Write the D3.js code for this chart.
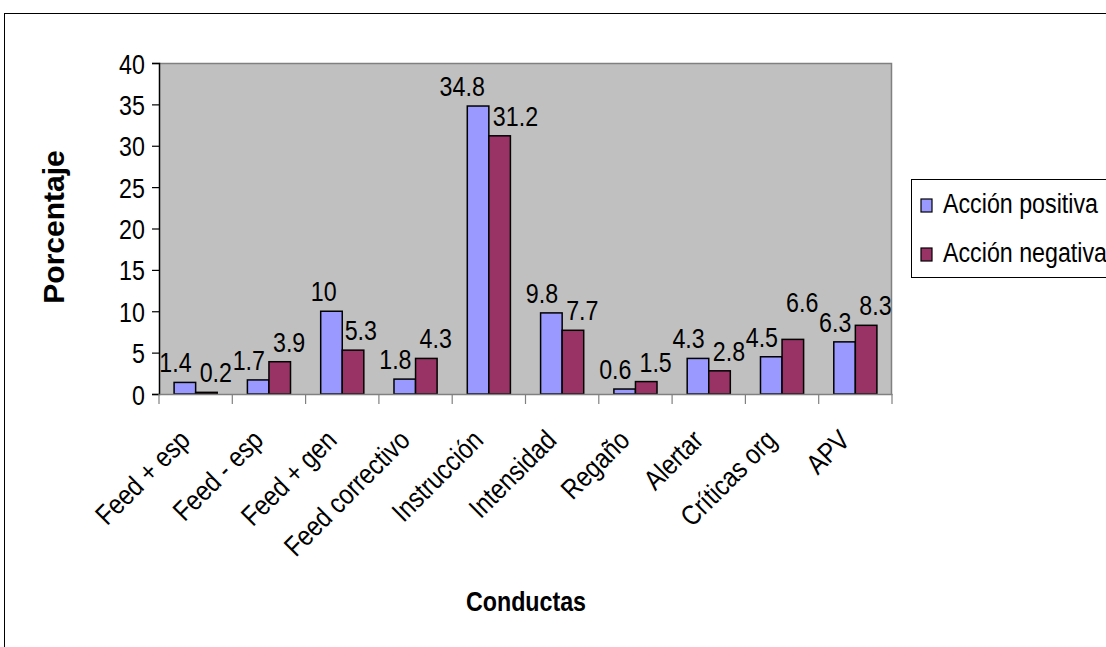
<!DOCTYPE html>
<html>
<head>
<meta charset="utf-8">
<script src="https://cdn.jsdelivr.net/npm/d3@7"></script>
<style>
  html, body { margin: 0; padding: 0; background: #fff; }
  svg { display: block; font-family: "Liberation Sans", Arial, sans-serif; }
</style>
</head>
<body>
<svg id="chart" width="1106" height="647"></svg>
<script>
const categories = ["Feed + esp", "Feed - esp", "Feed + gen", "Feed correctivo", "Instrucción",
                    "Intensidad", "Regaño", "Alertar", "Críticas org", "APV"];
const positiva = [1.4, 1.7, 10, 1.8, 34.8, 9.8, 0.6, 4.3, 4.5, 6.3];
const negativa = [0.2, 3.9, 5.3, 4.3, 31.2, 7.7, 1.5, 2.8, 6.6, 8.3];
const seriesNames = ["Acción positiva", "Acción negativa"];
const seriesColors = ["#9999FF", "#993366"];
const yTicks = [0, 5, 10, 15, 20, 25, 30, 35, 40];
const yTitle = "Porcentaje";
const xTitle = "Conductas";

const svg = d3.select("#chart");
const SX = 0.83;       // horizontal text compression
const FS = 28;

// outer frame
svg.append("rect").attr("x", 4.5).attr("y", 13.5).attr("width", 1200).attr("height", 700)
  .attr("fill", "#fff").attr("stroke", "#000").attr("stroke-width", 1);

const plot = { left: 159, right: 892, top: 63, bottom: 394 };

const x = d3.scaleBand().domain(categories).range([plot.left, plot.right]).padding(0);
const xs = d3.scaleBand().domain(seriesNames).range([0, x.bandwidth()]).paddingInner(0).paddingOuter(0.7);
const y = d3.scaleLinear().domain([0, 40]).range([plot.bottom, plot.top]);

// plot background
svg.append("rect").attr("x", plot.left).attr("y", plot.top)
  .attr("width", plot.right - plot.left).attr("height", plot.bottom - plot.top)
  .attr("fill", "#C0C0C0");
// top & right border
svg.append("path")
  .attr("d", `M${plot.left},${plot.top + 0.5}H${plot.right - 0.5}V${plot.bottom}`)
  .attr("fill", "none").attr("stroke", "#808080").attr("stroke-width", 1.5);

// bars
const data = categories.map((c, i) => ({ c, vals: [positiva[i], negativa[i]] }));
const groups = svg.append("g").selectAll("g").data(data).join("g")
  .attr("transform", d => `translate(${x(d.c)},0)`);
groups.selectAll("rect").data(d => d.vals.map((v, k) => ({ v, k }))).join("rect")
  .attr("x", d => xs(seriesNames[d.k]))
  .attr("y", d => y(d.v))
  .attr("width", xs.bandwidth())
  .attr("height", d => y(0) - y(d.v))
  .attr("fill", d => seriesColors[d.k])
  .attr("stroke", "#000").attr("stroke-width", 1.5);

// y axis
const yAxis = svg.append("g").attr("transform", `translate(${plot.left},0)`)
  .call(d3.axisLeft(y).tickValues(yTicks).tickSize(7).tickPadding(10).tickFormat(d3.format("d")));
yAxis.select(".domain").attr("stroke", "#000").attr("stroke-width", 1.5);
yAxis.selectAll(".tick line").attr("stroke", "#000").attr("stroke-width", 1.2);
yAxis.selectAll(".tick text").attr("font-size", FS).attr("fill", "#000")
  .attr("font-family", "Liberation Sans, Arial, sans-serif")
  .attr("transform", `scale(${SX},1)`).attr("dy", "0.36em");

// x axis
const xAxis = svg.append("g").attr("transform", `translate(0,${plot.bottom})`)
  .call(d3.axisBottom(x).tickSize(0).tickFormat(""));
xAxis.select(".domain").attr("stroke", "#808080").attr("stroke-width", 1.5);
const bounds = categories.map(c => x(c)).concat([x.range()[1]]);
xAxis.selectAll("line.bound").data(bounds).join("line").attr("class", "bound")
  .attr("x1", d => d).attr("x2", d => d).attr("y1", 0).attr("y2", 10)
  .attr("stroke", "#808080").attr("stroke-width", 1.2);

// category labels
svg.append("g").selectAll("text").data(categories).join("text")
  .attr("transform", d => `translate(${x(d) + x.bandwidth() / 2 - 4},442) rotate(-45) scale(0.85,1)`)
  .attr("text-anchor", "end")
  .attr("font-size", FS).attr("fill", "#000")
  .text(d => d);

// data labels with simple collision avoidance
const labelLayer = svg.append("g");
const TH = 20; // approx. digit height
const allPairs = data.map(d => {
  const items = d.vals.map((v, k) => {
    const cx = x(d.c) + xs(seriesNames[k]) + xs.bandwidth() / 2;
    const t = labelLayer.append("text")
      .attr("font-size", FS).attr("fill", "#000").attr("text-anchor", "middle")
      .text(d3.format("")(v));
    const w = t.node().getComputedTextLength() * SX;
    return { t, cx, by: y(v) - 10, w };
  });
  const [a, b] = items;
  const vOverlap = Math.abs(a.by - b.by) < FS * 1.5;
  const need = (a.w + b.w) / 2 + 8 - (b.cx - a.cx);
  if (vOverlap && need > 0) { a.cx -= need / 2; b.cx += need / 2; }
  return items;
});
for (let i = 0; i < allPairs.length - 1; i++) {
  const r = allPairs[i][1], l = allPairs[i + 1][0];
  const hOver = (r.cx + r.w / 2) > (l.cx - l.w / 2) - 2;
  const vOver = Math.abs(r.by - l.by) < TH / 2;
  if (hOver && vOver) r.by = Math.min(r.by, l.by - TH);
}
allPairs.flat().forEach(it => it.t.attr("transform", `translate(${it.cx},${it.by}) scale(${SX},1)`));

// axis titles
svg.append("text")
  .attr("transform", `translate(64,227) rotate(-90)`)
  .attr("text-anchor", "middle").attr("font-size", 30).attr("font-weight", "bold")
  .text(yTitle);
svg.append("text")
  .attr("transform", `translate(526,611) scale(${SX},1)`)
  .attr("text-anchor", "middle").attr("font-size", FS).attr("font-weight", "bold")
  .text(xTitle);

// legend
const lg = svg.append("g");
lg.append("rect").attr("x", 911.5).attr("y", 179.5).attr("width", 260).attr("height", 98)
  .attr("fill", "#fff").attr("stroke", "#000").attr("stroke-width", 1);
seriesNames.forEach((s, k) => {
  const yy = 213 + k * 49;
  lg.append("rect").attr("x", 921).attr("y", yy - 14).attr("width", 11).attr("height", 13)
    .attr("fill", seriesColors[k]).attr("stroke", "#000").attr("stroke-width", 1.2);
  lg.append("text").attr("transform", `translate(943,${yy}) scale(${SX},1)`)
    .attr("font-size", FS).attr("fill", "#000").text(s);
});
</script>
</body>
</html>
